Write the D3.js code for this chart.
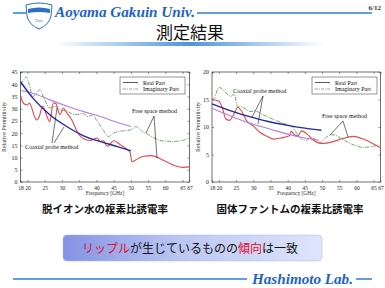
<!DOCTYPE html>
<html>
<head>
<meta charset="utf-8">
<script src="https://cdn.jsdelivr.net/npm/d3@7"></script>
<style>
  body { margin: 0; background: #fff; }
  svg { display: block; }
  .tick text { font-family: "Liberation Serif", serif; font-size: 5.5px; fill: #222; }
</style>
</head>
<body>
<svg id="slide" width="385" height="288"></svg>
<script>
// deionized water (left chart)
const waterRealFree = [[18,35],[19,32],[20,31.5],[20.6,32.3],[22,27],[22.6,25.4],[23.2,26],[24.5,31],[25.5,27.5],[26.5,24.7],[27.5,32.3],[28.3,32],[29.4,27.5],[30.4,30.3],[31.3,28.5],[32.9,25.4],[34.3,21],[36.2,17.8],[38.2,17],[40.2,18],[41.2,16.5],[42,17],[43.2,14.5],[45,16.9],[47,15.2],[48.5,13.8],[49.8,12],[50.3,8.3],[51.4,9],[53.4,10.4],[56,10.8],[59.2,9],[62.2,7],[65,6],[67,6.2]];
const waterImagFree = [[18,40],[19,42],[19.7,43],[20.5,40],[21.6,35],[22.5,36],[23.6,37.7],[25,33.6],[26.5,30.3],[28,31],[29.4,29.5],[31.4,29],[33.8,27.5],[36,28],[37.6,26.8],[39,27.5],[40,25.4],[42,21.3],[43.5,18.6],[45,20],[47.6,20.9],[50,21.3],[51.4,22.7],[53.4,20.6],[55.2,19.3],[57.3,17.6],[59.2,16.8],[62,16.6],[65,17],[67,18.2]];
const waterRealCoax = [[18,41],[21.6,34.3],[26.5,27.5],[31.4,22.7],[36.3,18.9],[41.2,16.5],[46.1,14.5],[50,12.8]];
const waterImagCoax = [[18,37.4],[21.6,36.3],[26.5,33.6],[31.4,31.1],[36.3,28.8],[41.2,26.8],[46.1,24.3],[50,22.7]];

// solid phantom (right chart)
const phantomRealFree = [[18,15],[20,14.7],[21,13.5],[22,11.5],[23,11.2],[24.5,12.5],[25.5,13.6],[26.5,13],[28,11.2],[30,10.2],[32,9],[34,8.3],[36,7.8],[38,8],[40.5,8.4],[41,9.2],[42,8.6],[43,8.4],[44,9.3],[45.5,8.8],[47.5,7.6],[50,7],[53,7.3],[56,7.9],[59,8.3],[62,7.8],[65,6.9],[67,6.2]];
const phantomImagFree = [[18,15],[18.6,15.2],[20,17.2],[20.8,17],[22.4,16],[23.5,15.6],[24.5,16],[25.4,13.8],[26.8,13.6],[28,13.2],[29,12.8],[30.8,12.9],[32,12.5],[33.7,12],[36.6,11.2],[39.6,10.5],[41.5,10],[42.9,8.6],[44.4,7.7],[45.5,7.6],[46.5,8],[48,7.8],[49.6,7.2],[51.3,8.2],[53.2,8.6],[56.1,7.7],[59,6.8],[62,6.3],[65,6.5],[67,6.8]];
const phantomRealCoax = [[18,14.2],[25,12.6],[30,11.7],[35,10.9],[40,10.3],[45,9.8],[49.8,9.4]];
const phantomImagCoax = [[18,13.4],[25,11.6],[30,10.5],[35,9.6],[40,8.7],[45,8],[49,7.6]];

const freqTicks = [18,20,25,30,35,40,45,50,55,60,65,67];
const waterYTicks = [0,5,10,15,20,25,30,35,40,45];
const phantomYTicks = [0,5,10,15,20];
const legendLabels = ["Real Part", "Imaginary Part"];

const svg = d3.select("#slide");
const defs = svg.append("defs");

// ---------- header ----------
const barGrad = defs.append("linearGradient").attr("id", "bar");
barGrad.append("stop").attr("offset", "0%").attr("stop-color", "#fff");
barGrad.append("stop").attr("offset", "50%").attr("stop-color", "#4d94e0");
barGrad.append("stop").attr("offset", "100%").attr("stop-color", "#fff");

svg.append("line").attr("x1", 13).attr("x2", 26).attr("y1", 13).attr("y2", 13)
   .attr("stroke", "#2a7fd0").attr("stroke-width", 1.5);
svg.append("line").attr("x1", 197).attr("x2", 372).attr("y1", 13).attr("y2", 13)
   .attr("stroke", "#2a7fd0").attr("stroke-width", 1.5);

// shield logo
const logo = svg.append("g");
logo.append("path")
    .attr("d", "M26,5 Q39,1 52,5 L51,16 Q49,25 39,29 Q29,25 27,16 Z")
    .attr("fill", "#fff").attr("stroke", "#2a6fc8").attr("stroke-width", 1);
logo.append("path")
    .attr("d", "M28,9 Q39,6 50,9 L50,13 Q39,11 28,13 Z").attr("fill", "#2a6fc8");
logo.append("text").attr("x", 39).attr("y", 22).attr("text-anchor", "middle")
    .style("font", "italic 4px 'Liberation Serif'").attr("fill", "#2a6fc8").text("Univ");

svg.append("text").attr("x", 55).attr("y", 17)
   .attr("textLength", 140).attr("lengthAdjust", "spacingAndGlyphs")
   .style("font", "italic bold 14.5px 'Liberation Serif'").attr("fill", "#1e63c4")
   .text("Aoyama Gakuin Univ.");
svg.append("text").attr("x", 381).attr("y", 10).attr("text-anchor", "end")
   .style("font", "bold 7px 'Liberation Serif'").attr("fill", "#333").text("6/12");

svg.append("text").attr("x", 190).attr("y", 38.5).attr("text-anchor", "middle")
   .style("font", "17px 'Noto Sans CJK JP'").attr("fill", "#111").text("測定結果");
svg.append("rect").attr("x", 55).attr("y", 42).attr("width", 270).attr("height", 4)
   .attr("fill", "url(#bar)");

// ---------- charts ----------
function drawPanel(opt) {
  const x = d3.scaleLinear().domain([18, 67]).range([opt.left, opt.right]);
  const y = d3.scaleLinear().domain([0, opt.yMax]).range([182, 72]);
  const g = svg.append("g");

  g.append("rect").attr("x", opt.left).attr("y", 72)
   .attr("width", opt.right - opt.left).attr("height", 110)
   .attr("fill", "#fff").attr("stroke", "#333").attr("stroke-width", 0.7);

  const bottom = g.append("g").attr("transform", "translate(0,182)")
    .call(d3.axisBottom(x).tickValues(freqTicks).tickSizeInner(-2).tickSizeOuter(0).tickPadding(4));
  const top = g.append("g").attr("transform", "translate(0,72)")
    .call(d3.axisTop(x).tickValues(freqTicks).tickSizeInner(-2).tickSizeOuter(0).tickFormat(""));
  const left = g.append("g").attr("transform", "translate(" + opt.left + ",0)")
    .call(d3.axisLeft(y).tickValues(opt.yTicks).tickSizeInner(-2).tickSizeOuter(0).tickPadding(3));
  const right = g.append("g").attr("transform", "translate(" + opt.right + ",0)")
    .call(d3.axisRight(y).tickValues(opt.yTicks).tickSizeInner(-2).tickSizeOuter(0).tickFormat(""));
  [bottom, top, left, right].forEach(a => {
    a.select(".domain").remove();
    a.selectAll(".tick line").attr("stroke", "#333").attr("stroke-width", 0.5);
  });
  left.selectAll(".tick text").style("font-size", "6px");

  g.append("text").attr("x", (opt.left + opt.right) / 2).attr("y", 195)
   .attr("text-anchor", "middle").style("font", "5.5px 'Liberation Serif'").attr("fill", "#333")
   .text("Frequency [GHz]");
  g.append("text").attr("transform", "translate(" + opt.yLabelX + ",127) rotate(-90)")
   .attr("text-anchor", "middle").style("font", "6px 'Liberation Serif'").attr("fill", "#333")
   .text("Relative Permittivity");

  const line = d3.line().x(d => x(d[0])).y(d => y(d[1])).curve(d3.curveMonotoneX);
  const series = [
    [opt.imagFree, "#5e9e5e", 0.9, "4,1.2,1,1.2"],
    [opt.realFree, "#e8484a", 1.1, null],
    [opt.imagCoax, "#b57be6", 1.1, null],
    [opt.realCoax, "#2626a8", 1.4, null]
  ];
  series.forEach(s => {
    g.append("path").datum(s[0]).attr("d", line)
     .attr("fill", "none").attr("stroke", s[1]).attr("stroke-width", s[2])
     .attr("stroke-dasharray", s[3]);
  });

  // annotations
  const ann = g.append("g").attr("stroke", "#111").attr("stroke-width", 0.6).attr("fill", "none");
  opt.arrows.forEach(a => {
    ann.append("line").attr("x1", a[0]).attr("y1", a[1]).attr("x2", a[2]).attr("y2", a[3]);
  });
  opt.notes.forEach(n => {
    g.append("text").attr("x", n[0]).attr("y", n[1])
     .style("font", "6px 'Liberation Serif'").attr("fill", "#111").text(n[2]);
  });

  // legend
  const lg = g.append("g").attr("transform", "translate(" + opt.legendX + ",77)");
  lg.append("rect").attr("width", 65).attr("height", 17)
    .attr("fill", "#fff").attr("stroke", "#333").attr("stroke-width", 0.5);
  legendLabels.forEach((lab, i) => {
    const yy = 5.5 + i * 6.5;
    lg.append("line").attr("x1", 3).attr("x2", 18).attr("y1", yy).attr("y2", yy)
      .attr("stroke", i === 0 ? "#333" : "#6f9a6f").attr("stroke-width", 0.8)
      .attr("stroke-dasharray", i === 0 ? null : "3,1,1,1");
    lg.append("text").attr("x", 23).attr("y", yy + 2)
      .style("font", "6px 'Liberation Serif'").attr("fill", "#111").text(lab);
  });
}

drawPanel({
  left: 20.5, right: 189.5, yMax: 45, yTicks: waterYTicks, yLabelX: 6, legendX: 120,
  realFree: waterRealFree, imagFree: waterImagFree, realCoax: waterRealCoax, imagCoax: waterImagCoax,
  notes: [[25, 149, "Coaxial probe method"], [132, 113, "Free space method"]],
  arrows: [[52, 143, 57, 108], [54, 143, 64, 127], [154, 116, 146, 133], [154, 116, 157, 158]]
});
drawPanel({
  left: 212, right: 380.5, yMax: 20, yTicks: phantomYTicks, yLabelX: 200, legendX: 312,
  realFree: phantomRealFree, imagFree: phantomImagFree, realCoax: phantomRealCoax, imagCoax: phantomImagCoax,
  notes: [[233, 93, "Coaxial probe method"], [322, 118, "Free space method"]],
  arrows: [[263, 96, 252, 117], [263, 96, 258, 124], [343, 121, 330, 135], [343, 121, 348, 137]]
});

// captions
svg.append("text").attr("x", 105).attr("y", 213).attr("text-anchor", "middle")
   .style("font", "bold 10.5px 'Noto Sans CJK JP'").attr("fill", "#111").text("脱イオン水の複素比誘電率");
svg.append("text").attr("x", 290).attr("y", 213).attr("text-anchor", "middle")
   .style("font", "bold 10.5px 'Noto Sans CJK JP'").attr("fill", "#111").text("固体ファントムの複素比誘電率");

// ---------- conclusion box ----------
const boxGrad = defs.append("linearGradient").attr("id", "box");
boxGrad.append("stop").attr("offset", "0%").attr("stop-color", "#8492e4");
boxGrad.append("stop").attr("offset", "45%").attr("stop-color", "#bcc6f3");
boxGrad.append("stop").attr("offset", "100%").attr("stop-color", "#dfe5fb");
svg.append("rect").attr("x", 63).attr("y", 235).attr("width", 259).attr("height", 26).attr("rx", 4)
   .attr("fill", "url(#box)").attr("stroke", "#aab4ea").attr("stroke-width", 0.5);

const msg = svg.append("text").attr("x", 82).attr("y", 253)
   .style("font", "12px 'Noto Sans CJK JP'");
[["リップル", "#e0102e"], ["が生じているものの", "#111"], ["傾向", "#e0102e"], ["は一致", "#111"]]
  .forEach(p => msg.append("tspan").attr("fill", p[1]).text(p[0]));

// ---------- footer ----------
svg.append("line").attr("x1", 13).attr("x2", 247).attr("y1", 279).attr("y2", 279)
   .attr("stroke", "#2a7fd0").attr("stroke-width", 1.5);
svg.append("line").attr("x1", 356).attr("x2", 372).attr("y1", 279).attr("y2", 279)
   .attr("stroke", "#2a7fd0").attr("stroke-width", 1.5);
svg.append("text").attr("x", 252).attr("y", 284)
   .attr("textLength", 101).attr("lengthAdjust", "spacingAndGlyphs")
   .style("font", "italic bold 14px 'Liberation Serif'").attr("fill", "#1e63c4")
   .text("Hashimoto Lab.");
</script>
</body>
</html>
